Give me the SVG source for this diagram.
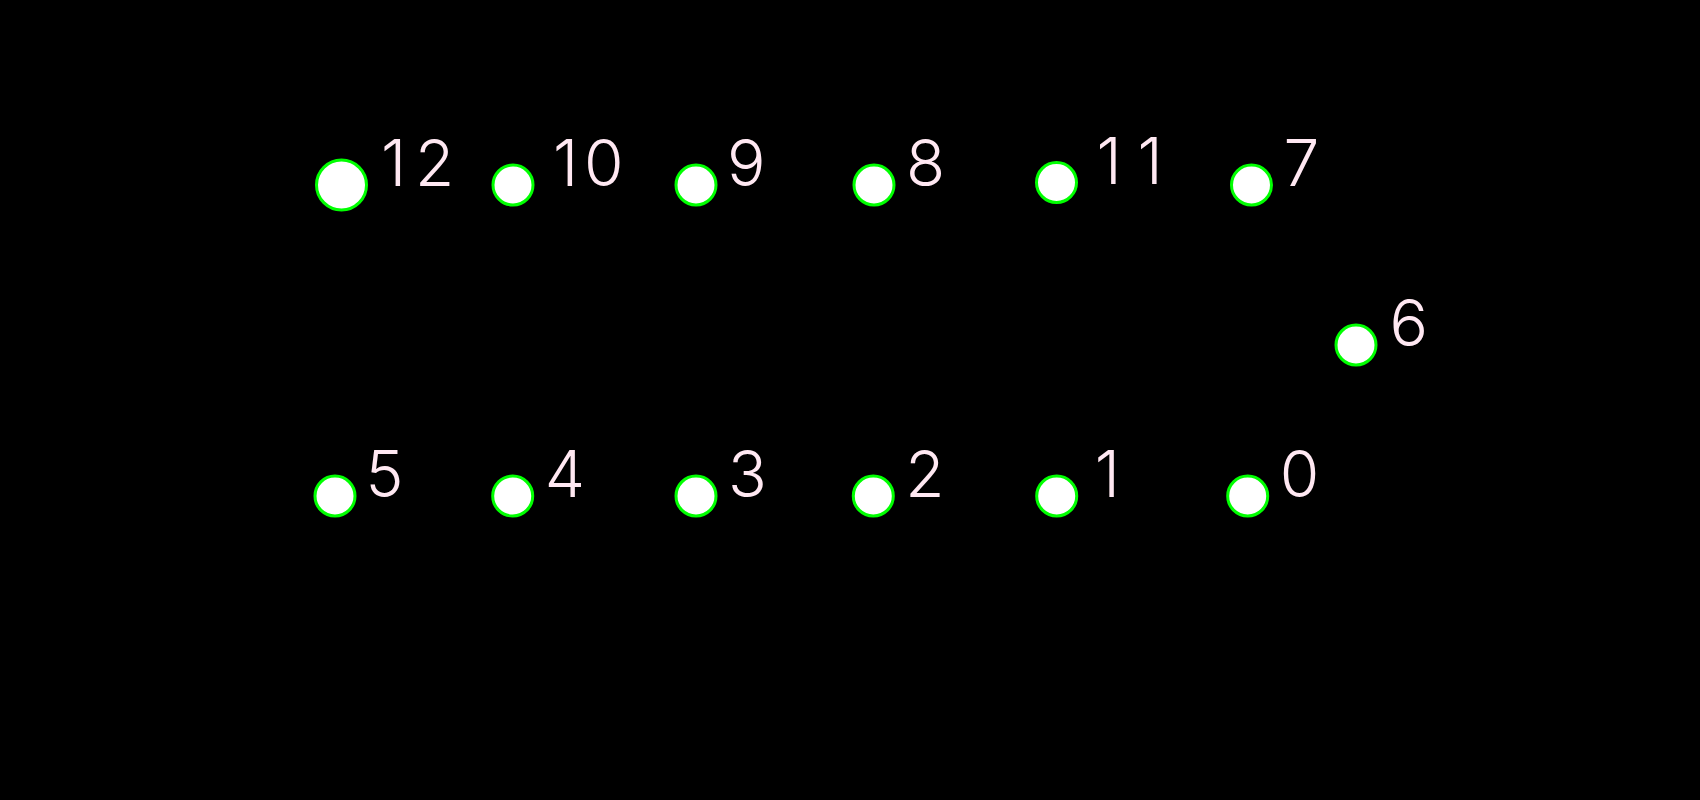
<svg xmlns="http://www.w3.org/2000/svg" width="1700" height="800" viewBox="0 0 1700 800">
<style>
.n circle{fill:#ffffff;stroke:#00ff00;stroke-width:3}
.n text{fill:#ffe8f2;font-family:"Inter","Liberation Sans",sans-serif;font-weight:300;font-size:64px}
</style>
<rect width="1700" height="800" fill="#000000"/>
<g id="connectors"></g>
<g id="node12" class="n"><circle cx="341.5" cy="185" r="25"/><text x="381 415" y="186">12</text></g>
<g id="node10" class="n"><circle cx="513" cy="185" r="20"/><text x="553 584" y="186">10</text></g>
<g id="node9" class="n"><circle cx="696" cy="185" r="20"/><text x="727" y="186">9</text></g>
<g id="node8" class="n"><circle cx="874" cy="185" r="20"/><text x="906" y="186">8</text></g>
<g id="node11" class="n"><circle cx="1056.5" cy="182.5" r="20"/><text x="1096.5 1137.5" y="183.5">11</text></g>
<g id="node7" class="n"><circle cx="1251.5" cy="185" r="20"/><text x="1283.5" y="186">7</text></g>
<g id="node6" class="n"><circle cx="1356" cy="345" r="20"/><text x="1389.5" y="346">6</text></g>
<g id="node5" class="n"><circle cx="335" cy="496" r="20"/><text x="365.5" y="497">5</text></g>
<g id="node4" class="n"><circle cx="512.7" cy="496" r="20"/><text x="544.7" y="497">4</text></g>
<g id="node3" class="n"><circle cx="696" cy="496" r="20"/><text x="728" y="497">3</text></g>
<g id="node2" class="n"><circle cx="873.3" cy="496" r="20"/><text x="905.3" y="497">2</text></g>
<g id="node1" class="n"><circle cx="1056.7" cy="496" r="20"/><text x="1094.7" y="497">1</text></g>
<g id="node0" class="n"><circle cx="1247.7" cy="496" r="20"/><text x="1279.7" y="497">0</text></g>
</svg>
